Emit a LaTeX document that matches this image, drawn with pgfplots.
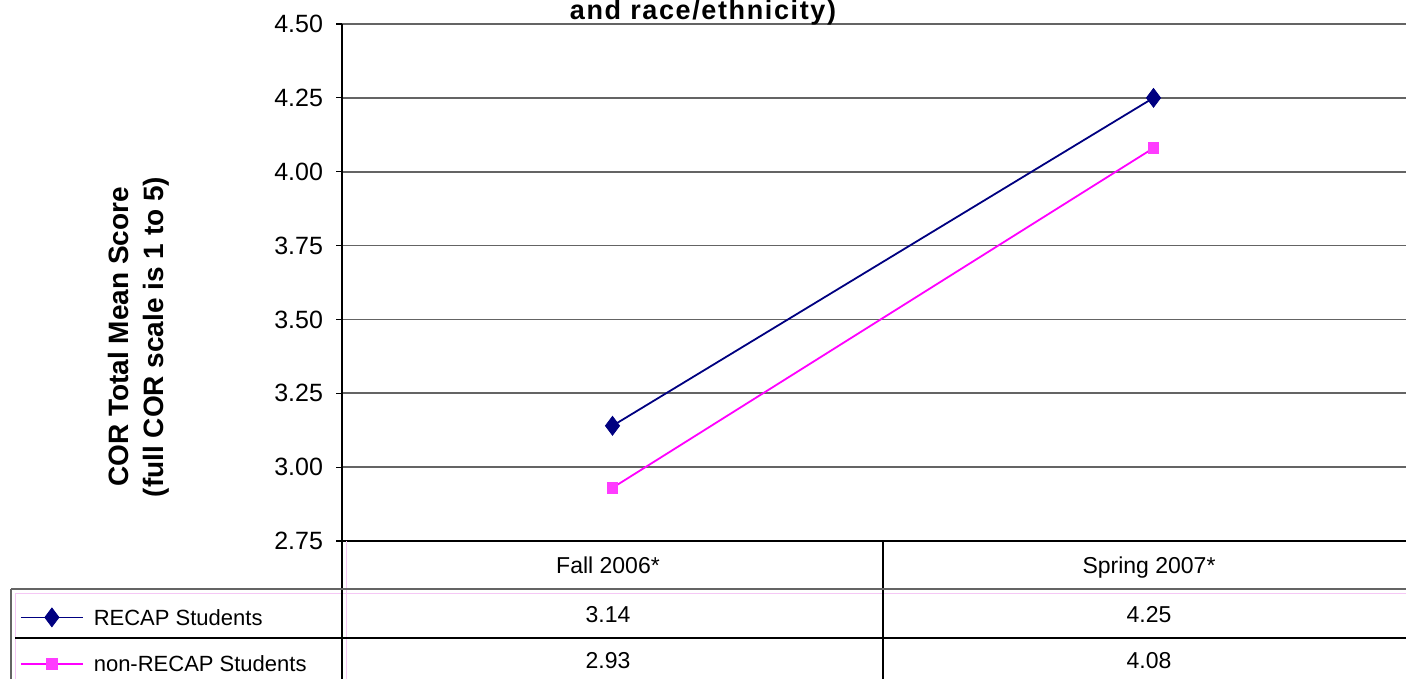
\documentclass[border=0pt]{standalone}
\usepackage{fontspec}
\setmainfont{Liberation Sans}
\usepackage{pgfplots}
\usepackage{pgfplotstable}
\pgfplotsset{compat=1.18}

\definecolor{recap}{RGB}{0,0,128}
\definecolor{nonrecap}{RGB}{255,0,255}
\definecolor{nonrecapmark}{RGB}{255,60,255}
\definecolor{gridgray}{RGB}{100,100,100}
\definecolor{keypink}{RGB}{245,200,245}

% COR total mean score by term
\pgfplotstableread{
x recap nonrecap
0 3.14 2.93
1 4.25 4.08
}\scores

\begin{document}
\begin{tikzpicture}
\useasboundingbox (0,0) rectangle (703pt,-339.5pt);
\begin{scope}
\clip (0,0) rectangle (703pt,-339.5pt);
\begin{axis}[
  at={(171pt,-270.5pt)}, anchor=south west,
  scale only axis, width=541pt, height=258.5pt,
  xmin=-0.5, xmax=1.5, ymin=2.75, ymax=4.5,
  axis lines*=left,
  axis line style={black, line width=0.6pt},
  xtick=\empty,
  ytick={2.75,3.00,3.25,3.50,3.75,4.00,4.25,4.50},
  yticklabel style={xshift=-3pt, /pgf/number format/.cd, fixed, fixed zerofill, precision=2, assume math mode=true},
  tick label style={font=\fontsize{12.5}{15}\selectfont},
  tick style={black, line width=0.6pt},
  major tick length=3pt, tick align=outside,
  ymajorgrids, major grid style={gridgray, line width=0.8pt},
  legend image code/.code={\draw[mark repeat=2,mark phase=2,#1] plot coordinates {(0pt,0pt) (15.5pt,0pt) (31pt,0pt)};},
  legend cell align=left,
  legend style={at={(axis description cs:-0.2976,-0.1296)}, anchor=north west,
    draw=none, fill=none, inner sep=0pt, outer sep=0pt,
    row sep=14.5pt, column sep=5pt,
    font=\fontsize{11}{13}\selectfont,
    nodes={inner sep=0pt, text height=8pt, text depth=0pt}},
]
\addplot[recap, line width=0.9pt, mark=diamond*, mark size=4.7pt,
  mark options={fill=recap, draw=recap, line width=0.4pt}]
  table[x=x, y=recap] {\scores};
\addlegendentry{RECAP Students}
\addplot[nonrecap, line width=0.9pt, mark=square*, mark size=2.6pt,
  mark options={fill=nonrecapmark, draw=nonrecapmark, line width=0.4pt}]
  table[x=x, y=nonrecap] {\scores};
\addlegendentry{non-RECAP Students}
\end{axis}
\end{scope}

% data table beneath the plot
\begin{scope}[x=0.5pt, y=-0.5pt]
  \draw[keypink, line width=0.3pt] (346,541) -- (346,679);
  \draw[keypink, line width=0.4pt] (15,593) -- (1406,593);
  \draw[keypink, line width=0.4pt] (15,593) -- (15,679);
  \draw[black, line width=0.6pt] (342,541) -- (342,679);
  \draw[black, line width=0.6pt] (883,541) -- (883,679);
  \draw[gridgray, line width=1pt] (11,589) -- (1406,589);
  \draw[black, line width=0.6pt] (15,638) -- (1406,638);
  \draw[gridgray, line width=0.8pt] (11,589) -- (11,679);

  \begin{scope}[every node/.style={anchor=base, inner sep=0pt, font=\fontsize{11.5}{14}\selectfont}]
    \node at (608,573) {Fall 2006*};
    \node at (1149,573) {Spring 2007*};
    \node at (608,622) {3.14};
    \node at (1149,622) {4.25};
    \node at (608,668) {2.93};
    \node at (1149,668) {4.08};
  \end{scope}

  \node[anchor=base, inner sep=0pt, font=\fontsize{13.5}{16}\selectfont\bfseries\addfontfeatures{LetterSpace=6}]
    at (703,20) {and race/ethnicity)};

  \node[rotate=90, align=center, inner sep=0pt, font=\fontsize{14}{17.5}\selectfont\bfseries]
    at (139,337) {COR Total Mean Score\\(full COR scale is 1 to 5)};
\end{scope}
\end{tikzpicture}
\end{document}
